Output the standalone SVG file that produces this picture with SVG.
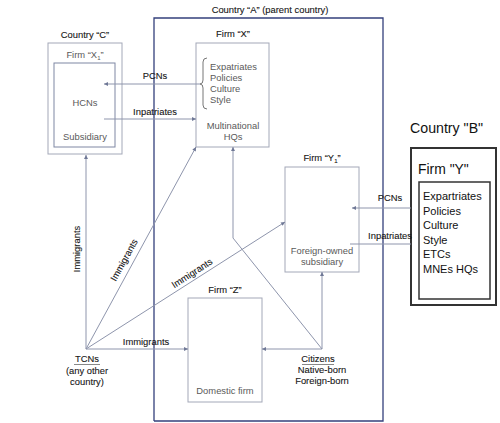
<svg xmlns="http://www.w3.org/2000/svg" width="500" height="423" viewBox="0 0 500 423">
<defs>
<marker id="ah" viewBox="0 0 10 10" refX="10" refY="5" markerWidth="5" markerHeight="4" orient="auto" markerUnits="userSpaceOnUse">
<path d="M0,0 L10,5 L0,10 z" fill="#6f7896"/>
</marker>
<style>
.lbl{font-family:"Liberation Sans",Arial,sans-serif;font-size:9.4px;fill:#151515;stroke:#151515;stroke-width:0.1}
.in{font-family:"Liberation Sans",Arial,sans-serif;font-size:9.4px;fill:#5a5a5a}
.box{fill:none;stroke:#a3a8b8;stroke-width:1}
.con{fill:none;stroke:#8e95ac;stroke-width:1}
.arr{marker-end:url(#ah)}
.yb{font-family:"Liberation Sans",Arial,sans-serif;fill:#111}
</style>
</defs>
<rect width="500" height="423" fill="#ffffff"/>

<g id="countryA">
<path d="M154,421 L154,18 L383,18 L383,421 L154,421" fill="none" stroke="#34407c" stroke-width="1.3"/>
<text class="lbl" x="270" y="13" text-anchor="middle">Country “A” (parent country)</text>
</g>

<g id="firmX1">
<text class="lbl" x="85" y="38" text-anchor="middle">Country “C”</text>
<rect class="box" x="48" y="43" width="74" height="111" stroke="#b0b4c2"/>
<text class="in" x="85" y="58" text-anchor="middle">Firm “X<tspan font-size="6" dy="2">1</tspan><tspan dy="-2">”</tspan></text>
<rect x="54" y="63" width="61" height="84" fill="none" stroke="#7f87a3" stroke-width="1"/>
<text class="in" x="85" y="106" text-anchor="middle">HCNs</text>
<text class="in" x="85" y="140" text-anchor="middle">Subsidiary</text>
</g>

<g id="firmX">
<text class="lbl" x="233" y="37" text-anchor="middle">Firm “X”</text>
<rect class="box" x="196" y="43" width="73" height="104"/>
<path d="M207,58 Q203,58 203,62 L203,80 Q203,84 200,84 Q203,84 203,88 L203,105 Q203,109 207,109" fill="none" stroke="#666" stroke-width="0.9"/>
<text class="in" x="210" y="70">Expatriates</text>
<text class="in" x="210" y="81">Policies</text>
<text class="in" x="210" y="92">Culture</text>
<text class="in" x="210" y="103">Style</text>
<text class="in" x="233" y="129" text-anchor="middle">Multinational</text>
<text class="in" x="233" y="140" text-anchor="middle">HQs</text>
</g>

<g id="firmY1">
<text class="lbl" x="322" y="161" text-anchor="middle">Firm “Y<tspan font-size="6" dy="2">1</tspan><tspan dy="-2">”</tspan></text>
<rect class="box" x="285" y="167" width="74" height="105"/>
<text class="in" x="322" y="254" text-anchor="middle">Foreign-owned</text>
<text class="in" x="322" y="265" text-anchor="middle">subsidiary</text>
</g>

<g id="firmZ">
<text class="lbl" x="225" y="293" text-anchor="middle">Firm “Z”</text>
<rect class="box" x="188" y="298" width="74" height="104"/>
<text class="in" x="225" y="394" text-anchor="middle">Domestic firm</text>
</g>

<g id="firmY">
<text class="yb" x="410" y="133" font-size="14.2">Country "B"</text>
<rect x="411" y="148" width="85" height="157" fill="#ffffff" stroke="#333" stroke-width="2"/>
<text class="yb" x="418" y="174" font-size="13.9">Firm "Y"</text>
<rect x="419" y="182" width="71" height="117" fill="none" stroke="#333" stroke-width="1.5"/>
<text class="yb" font-size="11" x="423" y="200">Expartriates</text>
<text class="yb" font-size="11" x="423" y="214.5">Policies</text>
<text class="yb" font-size="11" x="423" y="229">Culture</text>
<text class="yb" font-size="11" x="423" y="243.5">Style</text>
<text class="yb" font-size="11" x="423" y="258">ETCs</text>
<text class="yb" font-size="11" x="423" y="272.5">MNEs HQs</text>
</g>

<g id="tcns">
<text class="lbl" x="87" y="362" text-anchor="middle">TCNs</text>
<line x1="74" y1="364.5" x2="100" y2="364.5" stroke="#555" stroke-width="0.7"/>
<text class="lbl" x="87" y="374" text-anchor="middle">(any other</text>
<text class="lbl" x="87" y="385" text-anchor="middle">country)</text>
</g>

<g id="citizens">
<text class="lbl" x="318" y="362" text-anchor="middle">Citizens</text>
<line x1="302" y1="364.5" x2="334" y2="364.5" stroke="#555" stroke-width="0.7"/>
<text class="lbl" x="322" y="373" text-anchor="middle">Native-born</text>
<text class="lbl" x="322" y="384" text-anchor="middle">Foreign-born</text>
</g>

<g id="connectors">
<line class="con arr" x1="200" y1="84" x2="104" y2="84"/>
<text class="lbl" x="155" y="79" text-anchor="middle">PCNs</text>
<line class="con arr" x1="104" y1="119" x2="196" y2="119"/>
<text class="lbl" x="155" y="115" text-anchor="middle">Inpatriates</text>

<line class="con arr" x1="411" y1="208" x2="352" y2="208"/>
<text class="lbl" x="390" y="201" text-anchor="middle">PCNs</text>
<line class="con" x1="350" y1="244" x2="411" y2="244"/>
<text class="lbl" x="390" y="239" text-anchor="middle">Inpatriates</text>

<line class="con arr" x1="86" y1="349" x2="86" y2="155"/>
<text class="lbl" text-anchor="middle" transform="translate(77,249) rotate(-90)" y="3.3">Immigrants</text>
<line class="con arr" x1="86" y1="349" x2="196" y2="147"/>
<text class="lbl" text-anchor="middle" transform="translate(124,260) rotate(-61)" y="3.3">Immigrants</text>
<line class="con arr" x1="86" y1="349" x2="285" y2="222"/>
<text class="lbl" text-anchor="middle" transform="translate(192,273) rotate(-33)" y="3.3">Immigrants</text>
<line class="con arr" x1="86" y1="349" x2="188" y2="349"/>
<text class="lbl" x="146" y="345" text-anchor="middle">Immigrants</text>

<line class="con arr" x1="322" y1="349" x2="262" y2="349"/>
<line class="con arr" x1="322" y1="349" x2="322" y2="272"/>
<path class="con arr" d="M322,349 L233,238 L233,147"/>
</g>
</svg>
